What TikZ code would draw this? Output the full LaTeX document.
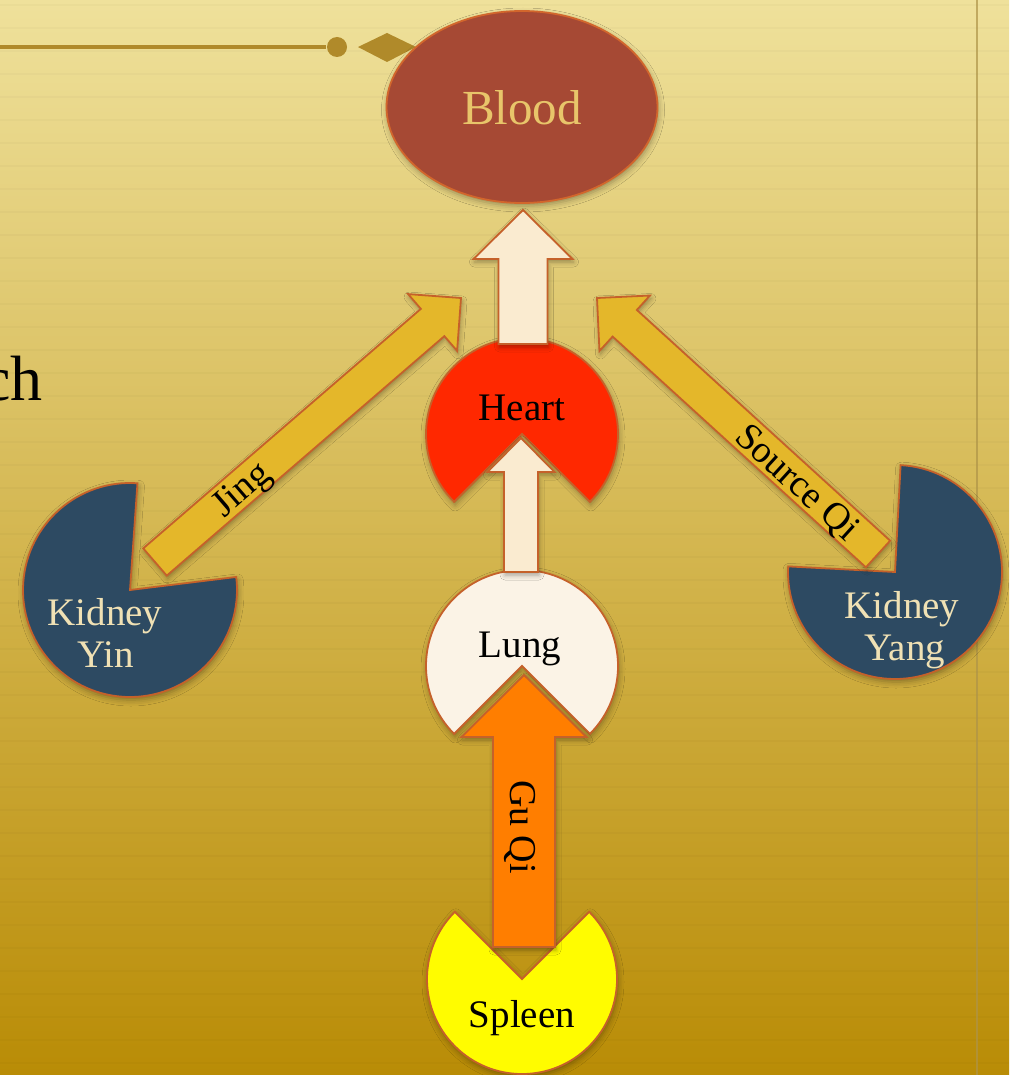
\documentclass[tikz,border=0pt]{standalone}
\usepackage{fontspec}
\setmainfont{Liberation Serif}
\usetikzlibrary{calc,shapes.geometric,shadows.blur}

\definecolor{bgtop}{HTML}{EFE19B}
\definecolor{bgbot}{HTML}{B98C06}
\definecolor{ornament}{HTML}{B08A2A}
\definecolor{rulecol}{HTML}{AE9448}
\definecolor{bloodfill}{HTML}{A64934}
\definecolor{bloodline}{HTML}{D2662C}
\definecolor{bloodtext}{HTML}{E8C56A}
\definecolor{heartfill}{HTML}{FF2800}
\definecolor{lungfill}{HTML}{FBF3E6}
\definecolor{cream}{HTML}{FAEBD0}
\definecolor{spleenfill}{HTML}{FFFC00}
\definecolor{guqi}{HTML}{FF7E00}
\definecolor{gold}{HTML}{E4B72A}
\definecolor{kidney}{HTML}{2D4A62}
\definecolor{kidneytext}{HTML}{F0E1B4}
\definecolor{edge}{HTML}{C5612A}

% block arrow from a tail coordinate to a tip coordinate:
% #1 style, #2 tail, #3 tip, #4 shaft half-width, #5 head half-width, #6 head length
\newcommand\blockarrow[6]{%
  \coordinate (ba-base) at ($(#3)!#6!(#2)$);
  \draw[#1] ($(#2)!#4!90:(#3)$) -- ($(ba-base)!#4!-90:(#2)$)
    -- ($(ba-base)!#5!-90:(#2)$) -- (#3) -- ($(ba-base)!#5!90:(#2)$)
    -- ($(ba-base)!#4!90:(#2)$) -- ($(#2)!#4!-90:(#3)$) -- cycle;
}

\begin{document}
\begin{tikzpicture}[x=1pt,y=-1pt,
  organ/.style={draw=edge,line width=1.8pt,line join=miter,
    blur shadow={shadow xshift=1pt,shadow yshift=-3pt,shadow blur radius=6pt,shadow opacity=35}},
  flow/.style={draw=edge,line width=1.8pt,line join=miter,
    blur shadow={shadow xshift=1pt,shadow yshift=-3pt,shadow blur radius=5pt,shadow opacity=35}},
  label/.style={font=\fontsize{39}{42}\selectfont,inner sep=0pt},
  flowlabel/.style={font=\fontsize{38}{40}\selectfont,inner sep=0pt}]

\useasboundingbox (0,0) rectangle (1009,1075);
\clip (0,0) rectangle (1009,1075);

% paper background
\shade[top color=bgtop,bottom color=bgbot] (0,0) rectangle (1009,1075);
\foreach \yy in {5,28,...,1075}
  \draw[black,opacity=0.018,line width=2pt] (0,\yy) -- (1009,\yy);
\draw[rulecol,opacity=0.7,line width=2pt] (977,0) -- (977,1075);

% title fragment and ornament rule
\node[font=\fontsize{64}{70}\selectfont,anchor=base east,inner sep=0pt] (title) at (43,400) {ch};
\draw[ornament,line width=4.5pt] (0,47) -- (326,47);
\fill[ornament] (337,47) circle (10);
\fill[ornament] (358,47) -- (387,33) -- (416,47) -- (387,62) -- cycle;

% Blood
\node[organ,ellipse,fill=bloodfill,draw=bloodline,minimum width=271pt,minimum height=192pt,inner sep=0pt] (blood) at (522,107) {};
\node[font=\fontsize{49}{52}\selectfont,text=bloodtext,anchor=base,inner sep=0pt] (bloodtxt) at (522,125) {Blood};

% Heart
\path[organ,fill=heartfill] (522,434) -- ++(45:96) arc (45:-225:96) -- cycle;
\node[label,anchor=base] (heart) at (522,420) {Heart};

% Heart -> Blood
\coordinate (hbTail) at (523,344);
\coordinate (hbTip) at (523,210);
\blockarrow{flow,fill=cream}{hbTail}{hbTip}{24.5pt}{49.5pt}{49pt}

% Kidney Yin, Kidney Yang
\path[organ,fill=kidney] (130,590) -- ++(-86:107) arc (-86:-367:107) -- cycle;
\node[label,text=kidneytext,anchor=base] (kyin) at (105,625) {Kidney};
\node[label,text=kidneytext,anchor=base] (kyin2) at (106,667) {Yin};
\path[organ,fill=kidney] (895,572) -- ++(-177:107) arc (-177:-447:107) -- cycle;
\node[label,text=kidneytext,anchor=base] (kyang) at (902,618) {Kidney};
\node[label,text=kidneytext,anchor=base] (kyang2) at (905,660) {Yang};

% Jing and Source Qi
\coordinate (jingTail) at (155,562);
\coordinate (jingTip) at (461,298);
\blockarrow{flow,fill=gold}{jingTail}{jingTip}{18pt}{37.5pt}{37.5pt}
\node[flowlabel,rotate=40.8] (jing) at (243,491) {Jing};
\coordinate (srcTail) at (878,554);
\coordinate (srcTip) at (597,298);
\blockarrow{flow,fill=gold}{srcTail}{srcTip}{18pt}{37.5pt}{37.5pt}
\node[flowlabel,rotate=-42.3] (src) at (796,484) {Source Qi};

% Lung
\path[organ,fill=lungfill] (522,666) -- ++(45:96) arc (45:-225:96) -- cycle;
\node[label,anchor=base] (lung) at (520,657) {Lung};

% Lung -> Heart
\coordinate (lhTail) at (521,572);
\coordinate (lhTip) at (521,438);
\blockarrow{flow,fill=cream}{lhTail}{lhTip}{17pt}{33.5pt}{34pt}

% Spleen
\path[organ,fill=spleenfill] (522,979) -- ++(-135:95) arc (-135:-405:95) -- cycle;
\node[label,anchor=base] (spleen) at (522,1027) {Spleen};

% Spleen -> Lung (Gu Qi)
\coordinate (gqTail) at (524,947);
\coordinate (gqTip) at (524,675);
\blockarrow{flow,fill=guqi}{gqTail}{gqTip}{31pt}{62.5pt}{62pt}
\node[flowlabel,rotate=-90] (guqilbl) at (520,827) {Gu Qi};

\end{tikzpicture}
\end{document}
